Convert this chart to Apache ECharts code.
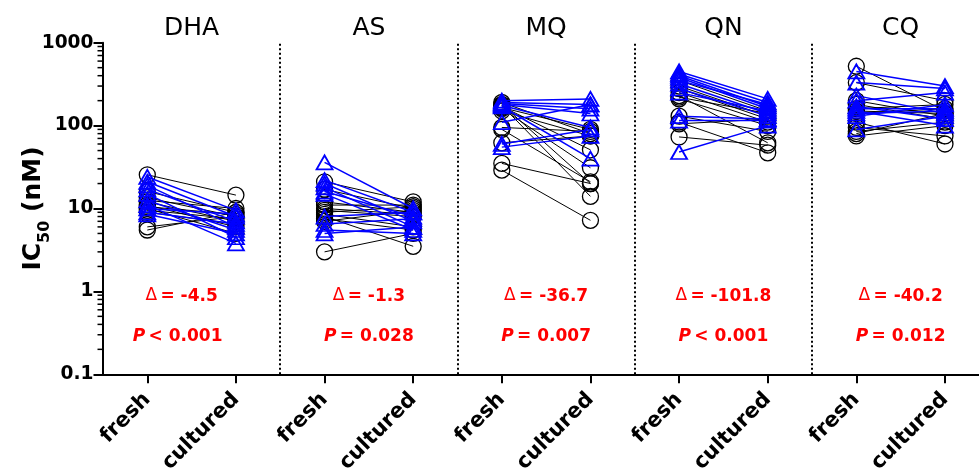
<!DOCTYPE html>
<html>
<head>
<meta charset="utf-8">
<script src="https://cdn.jsdelivr.net/npm/echarts@6/dist/echarts.min.js"></script>
<style>html,body{margin:0;padding:0;background:#fff}#c{width:979px;height:471px}</style>
</head>
<body>
<div id="c"></div>
<script>
// ---- data ----
const drugs = ['DHA', 'AS', 'MQ', 'QN', 'CQ'];
const conditions = ['fresh', 'cultured'];
const deltas = ['-4.5', '-1.3', '-36.7', '-101.8', '-40.2'];
const pSigns = ['<', '=', '=', '<', '='];
const pValues = ['0.001', '0.028', '0.007', '0.001', '0.012'];

const dhaBlackFresh = [25.5, 16, 13.5, 12.5, 12, 11, 10.5, 10, 9.5, 9, 6, 5.5];
const dhaBlackCult  = [14.5, 9, 8, 10, 7, 6, 8.5, 5, 7.5, 6.5, 8, 9];
const dhaBlueFresh  = [24, 21, 19, 17, 15, 12.5, 11, 10, 9, 8.5];
const dhaBlueCult   = [9.5, 8, 6, 7, 4.5, 5.5, 3.8, 8.5, 6.5, 5];

const asBlackFresh = [21, 17, 12, 11, 10, 9.5, 9, 8.5, 8, 7.5, 7, 3];
const asBlackCult  = [12, 10, 9, 11, 8.5, 8, 10.5, 6, 3.5, 5.5, 9.5, 5];
const asBlueFresh  = [36, 22, 20, 18, 16, 15, 8, 6.5, 5.5, 5];
const asBlueCult   = [10, 9, 7, 6, 8, 5.5, 9, 7.5, 5, 6];

const mqBlackFresh = [190, 180, 175, 170, 165, 160, 150, 95, 90, 62, 35, 29];
const mqBlackCult  = [80, 20, 14, 51, 90, 31, 75, 85, 21, 75, 20, 7.2];
const mqBlueFresh  = [200, 190, 185, 180, 175, 170, 110, 60, 55];
const mqBlueCult   = [210, 180, 160, 140, 95, 40, 180, 90, 75];

const qnBlackFresh = [350, 300, 280, 250, 230, 220, 210, 130, 110, 105, 73];
const qnBlackCult  = [150, 130, 120, 110, 62, 140, 100, 85, 47, 120, 58];
const qnBlueFresh  = [450, 420, 400, 380, 350, 320, 280, 250, 130, 115, 48];
const qnBlueCult   = [210, 190, 170, 160, 180, 140, 130, 150, 120, 115, 100];

const cqBlackFresh = [520, 330, 200, 180, 160, 150, 140, 110, 95, 85, 80, 75];
const cqBlackCult  = [150, 200, 130, 120, 180, 140, 160, 60, 75, 110, 140, 100];
const cqBlueFresh  = [450, 330, 230, 200, 170, 160, 150, 140, 130, 90];
const cqBlueCult   = [300, 280, 140, 250, 120, 160, 100, 150, 180, 130];

const blackFresh = [dhaBlackFresh, asBlackFresh, mqBlackFresh, qnBlackFresh, cqBlackFresh];
const blackCult  = [dhaBlackCult, asBlackCult, mqBlackCult, qnBlackCult, cqBlackCult];
const blueFresh  = [dhaBlueFresh, asBlueFresh, mqBlueFresh, qnBlueFresh, cqBlueFresh];
const blueCult   = [dhaBlueCult, asBlueCult, mqBlueCult, qnBlueCult, cqBlueCult];

// ---- build ----
const FONT = 'DejaVu Sans';
const BLUE = '#0000ff';
const RED = '#ff0000';
const series = [];

function addPairs(fr, cu, panel, color, symbol, symSize, lw, bw) {
  for (let k = 0; k < fr.length; k++) {
    series.push({
      type: 'line',
      data: [[2 * panel, fr[k]], [2 * panel + 1, cu[k]]],
      symbol: symbol,
      symbolSize: symSize,
      showSymbol: true,
      lineStyle: { color: color, width: lw },
      itemStyle: { color: 'rgba(0,0,0,0)', borderColor: color, borderWidth: bw },
      emphasis: { disabled: true },
      animation: false,
      z: color === BLUE ? 3 : 2
    });
  }
}
for (let i = 0; i < drugs.length; i++) {
  addPairs(blackFresh[i], blackCult[i], i, '#000', 'circle', 16, 1, 1.3);
  addPairs(blueFresh[i], blueCult[i], i, BLUE, 'triangle', [16, 14], 1.5, 1.8);
}

// separators
series.push({
  type: 'line', data: [], silent: true,
  markLine: {
    symbol: 'none', silent: true, animation: false,
    label: { show: false },
    lineStyle: { color: '#000', width: 2, type: [2, 2.5] },
    data: [1.5, 3.5, 5.5, 7.5].map(v => ({ xAxis: v }))
  }
});

// text layers positioned through the axes
const titleLevel = 1470, deltaLevel = 0.86, pLevel = 0.285;
const textItem = { opacity: 1, color: 'rgba(0,0,0,0)' };
// small per-panel nudges of the annotation text (pixels), as in the original figure
const deltaNudge = [-10, 0, 0, 0, 0];
const pNudge = [-14, 0, 0, 0, 0];
series.push({
  type: 'scatter', symbolSize: 1, clip: false, silent: true, animation: false,
  itemStyle: textItem,
  data: drugs.map((d, i) => ({ value: [2 * i + 0.5, titleLevel], name: d })),
  label: { show: true, position: 'inside', formatter: p => p.name, opacity: 1,
    fontFamily: FONT, fontSize: 25, color: '#000' }
});
series.push({
  type: 'scatter', symbolSize: 1, clip: false, silent: true, animation: false,
  itemStyle: textItem,
  data: deltas.map((d, i) => ({ value: [2 * i + 0.5, deltaLevel], name: d,
    label: { offset: [deltaNudge[i], 0] } })),
  label: { show: true, position: 'inside', opacity: 1,
    formatter: p => '{d|Δ} {b|= ' + p.name + '}',
    rich: {
      d: { fontFamily: FONT, fontSize: 17, color: RED, verticalAlign: 'bottom', padding: [0, 0, 2, 0] },
      b: { fontFamily: FONT, fontSize: 17, fontWeight: 'bold', color: RED }
    } }
});
series.push({
  type: 'scatter', symbolSize: 1, clip: false, silent: true, animation: false,
  itemStyle: textItem,
  data: pValues.map((v, i) => ({ value: [2 * i + 0.5, pLevel], name: pSigns[i] + ' ' + v,
    label: { offset: [pNudge[i], 0] } })),
  label: { show: true, position: 'inside', opacity: 1,
    formatter: p => '{i|P} {b|' + p.name + '}',
    rich: {
      i: { fontFamily: FONT, fontSize: 17, fontWeight: 'bold', fontStyle: 'italic', color: RED },
      b: { fontFamily: FONT, fontSize: 17, fontWeight: 'bold', color: RED }
    } }
});

const xTickVals = [0, 1, 2, 3, 4, 5, 6, 7, 8, 9];
const option = {
  backgroundColor: '#fff',
  animation: false,
  grid: { left: 102.5, right: 0, top: 42.7, bottom: 96.7, containLabel: false, outerBoundsMode: 'none' },
  xAxis: {
    type: 'value', min: -0.5055, max: 9.384,
    axisLine: { show: true, onZero: false, lineStyle: { color: '#000', width: 2 } },
    axisTick: { show: true, customValues: xTickVals, length: 9, lineStyle: { color: '#000', width: 2 } },
    axisLabel: { customValues: xTickVals, rotate: 45, margin: 22,
      formatter: v => conditions[Math.round(v) % 2],
      fontFamily: FONT, fontSize: 21, fontWeight: 'bold', color: '#000' },
    splitLine: { show: false }
  },
  yAxis: {
    type: 'log', logBase: 10, min: 0.1, max: 1000,
    name: '{m|IC}{s|50}{m| (nM)}', nameLocation: 'middle', nameGap: 57, nameRotate: 90,
    nameMoveOverlap: false,
    nameTextStyle: { rich: {
      m: { fontFamily: FONT, fontSize: 25, fontWeight: 'bold', color: '#000' },
      s: { fontFamily: FONT, fontSize: 16, fontWeight: 'bold', color: '#000', verticalAlign: 'bottom', padding: [0, 0, -7, 0] }
    } },
    axisLine: { show: true, onZero: false, lineStyle: { color: '#000', width: 2 } },
    axisTick: { show: true, length: 9, lineStyle: { color: '#000', width: 2 } },
    axisLabel: { margin: 9, fontFamily: FONT, fontSize: 18.6, fontWeight: 'bold', color: '#000',
      formatter: v => String(v) },
    splitLine: { show: false }
  },
  series: series
};

// minor log ticks drawn through the y scale
const minorVals = [];
for (let e = -1; e < 3; e++) for (let m = 2; m <= 9; m++) minorVals.push(+(m * Math.pow(10, e)).toPrecision(3));
series.push({
  type: 'custom', silent: true, animation: false, clip: false,
  data: minorVals.map(v => [-0.5055, v]),
  renderItem: (params, api) => {
    const p = api.coord([api.value(0), api.value(1)]);
    return { type: 'line', shape: { x1: p[0] - 5, y1: p[1], x2: p[0], y2: p[1] },
      style: { stroke: '#000', lineWidth: 1.5 } };
  }
});

const chart = echarts.init(document.getElementById('c'), null, { renderer: 'canvas' });
chart.setOption(option);
</script>
</body>
</html>
